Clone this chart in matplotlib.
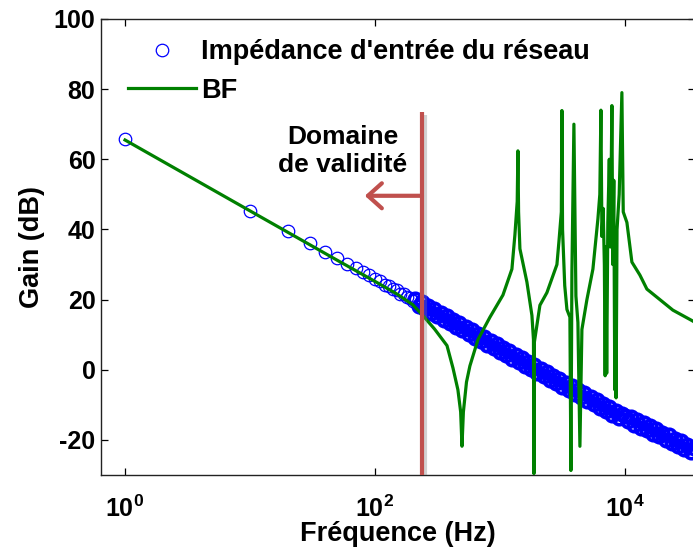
import math

import matplotlib
matplotlib.use("Agg")
import matplotlib.pyplot as plt
import matplotlib.patheffects as pe
from matplotlib.ticker import FixedLocator, FuncFormatter, NullLocator

# input impedance of the network (blue circles)
IMP_FREQ_HZ = [
    1, 10, 20, 30, 40, 50, 60, 70, 80, 90, 100, 110, 120, 130, 140, 150, 160, 170, 180, 190, 200,
    211, 224, 237, 251, 266, 282, 299, 316, 335, 355, 376, 398, 422, 447, 473, 501, 531, 562,
    596, 631, 668, 708, 750, 794, 841, 891, 944, 1000, 1059, 1122, 1189, 1259, 1334, 1413,
    1496, 1585, 1679, 1778, 1884, 1995, 2113, 2239, 2371, 2512, 2661, 2818, 2985, 3162, 3350,
    3548, 3758, 3981, 4217, 4467, 4732, 5012, 5309, 5623, 5957, 6310, 6683, 7079, 7499, 7943,
    8414, 8913, 9441, 10000, 10593, 11220, 11885, 12589, 13335, 14125, 14962, 15849, 16788,
    17783, 18836, 19953, 21135, 22387, 23714, 25119, 26607, 28184, 29854, 31623, 33497, 35481,
]
IMP_GAIN_DB = [
    65.8, 45.2, 39.6, 36.2, 33.6, 31.8, 30.2, 29.0, 27.8, 26.9, 25.8, 25.4, 24.3, 23.8, 22.9,
    22.6, 21.7, 21.5, 20.7, 20.6, 19.7,
    20.3, 18.2, 19.3, 17.2, 18.3, 16.2, 17.3, 15.2, 16.3, 14.2, 15.3, 13.2, 14.3, 12.2, 13.3,
    11.2, 12.3, 10.2, 11.3, 9.2, 10.3, 8.2, 9.3, 7.2, 8.3, 6.2, 7.3, 5.2, 6.3, 4.2, 5.3, 3.2,
    4.3, 2.2, 3.3, 1.2, 2.3, 0.2, 1.3, -0.8, 0.3, -1.8, -0.7, -2.8, -1.7, -3.8, -2.7, -4.8,
    -3.7, -5.8, -4.7, -6.8, -5.7, -7.8, -6.7, -8.8, -7.7, -9.8, -8.7, -10.8, -9.7, -11.8,
    -10.7, -12.8, -11.7, -13.8, -12.7, -13.2, -14.7, -13.6, -15.6, -14.4, -16.5, -15.3, -17.3,
    -16.1, -18.2, -17.0, -19.0, -17.9, -19.9, -18.7, -20.8, -19.6, -21.6, -20.4, -22.5, -21.3,
    -23.3, -22.2,
]
N_SPARSE = 21  # first points are spread out, the rest merge into a band

# BF model
BF_FREQ_HZ = [
    1, 10, 50, 100, 150, 200, 240, 300, 377, 421, 461, 485, 497, 510, 540, 575, 667, 832,
    1057, 1247, 1318, 1375, 1393, 1410, 1445, 1644, 1803, 1855, 1871, 1885, 2089, 2377, 2858,
    2965, 3100, 3133, 3170, 3300, 3436, 3630, 3698, 3767, 3908, 4055, 4207, 4365, 4529, 4966,
    5546, 6081, 6300, 6427, 6550, 6700, 6850, 6950, 7050, 7150, 7300, 7500, 7650, 7870, 8000,
    8150, 8300, 8400, 8500, 8650, 9000, 9460, 9700, 10375, 11376, 13183, 14997, 19055, 24210,
    34514, 36000,
]
BF_GAIN_DB = [
    65.5, 45.3, 31.2, 25.2, 21.6, 18.6, 15.6, 11.6, 6.9, 0.5, -5.7, -12.0, -21.8, -12.0, -3.5,
    1.1, 8.6, 15.0, 21.3, 28.7, 38.5, 48.0, 62.4, 45.0, 34.5, 25.0, 15.5, 8.6, -29.6, 7.8,
    18.4, 22.0, 30.0, 36.5, 45.0, 73.9, 40.0, 24.0, 17.2, 15.0, -28.7, 28.0, 70.0, 21.0, 13.5,
    -21.8, 11.5, 20.0, 28.7, 43.0, 50.0, 74.0, 38.0, 46.0, 30.0, -1.7, 35.0, -1.0, 42.0, 60.0,
    35.0, 75.3, 30.0, 54.0, -5.7, 36.0, -8.0, 40.0, 50.0, 79.0, 45.0, 42.0, 30.7, 27.0, 23.0,
    20.0, 17.0, 14.0, 13.6,
]

X_TICKS = [1, 100, 10000]
Y_TICKS = [-20, 0, 20, 40, 60, 80, 100]
VALIDITY_LIMIT_HZ = 238
ARROW_TIP_HZ = 83
ARROW_LEVEL_DB = 49.6

RED = "#c0504d"
GREEN = "#008000"
BLUE = "#0000ff"

plt.rcParams["font.family"] = ["Liberation Sans", "DejaVu Sans"]
plt.rcParams["font.weight"] = "bold"
plt.rcParams["axes.unicode_minus"] = False
plt.rcParams["mathtext.fontset"] = "custom"
plt.rcParams["mathtext.rm"] = "Liberation Sans:bold"
plt.rcParams["mathtext.bf"] = "Liberation Sans:bold"

fig = plt.figure(figsize=(6.93, 5.53), dpi=100)
ax = fig.add_axes([0.1457, 0.141, 0.857, 0.8247])

ax.plot(IMP_FREQ_HZ[:N_SPARSE], IMP_GAIN_DB[:N_SPARSE], linestyle="none", marker="o",
        markersize=9, markerfacecolor="none", markeredgecolor=BLUE, markeredgewidth=0.9,
        label="Impédance d'entrée du réseau", zorder=2)
ax.plot(IMP_FREQ_HZ[N_SPARSE:], IMP_GAIN_DB[N_SPARSE:], linestyle="none", marker="o",
        markersize=9, markerfacecolor="none", markeredgecolor=BLUE, markeredgewidth=2.6,
        zorder=2)
ax.plot(BF_FREQ_HZ, BF_GAIN_DB, color=GREEN, linewidth=2.3, label="BF", zorder=3)

ax.set_xscale("log")
ax.set_xlim(0.642, 36300)
ax.set_ylim(-30, 100)
ax.xaxis.set_major_locator(FixedLocator(X_TICKS))
ax.xaxis.set_minor_locator(NullLocator())
ax.xaxis.set_major_formatter(FuncFormatter(lambda v, p: r"$\mathbf{10^{%d}}$" % round(math.log10(v))))
ax.set_yticks(Y_TICKS)
ax.tick_params(direction="in", top=True, right=True, length=5, width=0.9, labelsize=18)
ax.tick_params(axis="y", pad=4)
ax.tick_params(axis="x", pad=15)
for sp in ax.spines.values():
    sp.set_linewidth(1.0)
    sp.set_color("#222222")

ax.set_xlabel("Fréquence (Hz)", fontsize=19.5, fontweight="bold", labelpad=-1)
ax.set_ylabel("Gain (dB)", fontsize=19.5, fontweight="bold", labelpad=6)

# validity domain annotation
shadow = [pe.SimpleLineShadow(offset=(2, -2), shadow_color="gray", alpha=0.35), pe.Normal()]
ax.axvline(VALIDITY_LIMIT_HZ, ymin=0, ymax=0.796, color=RED, linewidth=3.0,
           solid_capstyle="butt", path_effects=shadow, zorder=4)
ax.annotate("", xy=(ARROW_TIP_HZ, ARROW_LEVEL_DB), xytext=(VALIDITY_LIMIT_HZ, ARROW_LEVEL_DB),
            arrowprops=dict(arrowstyle="->,head_length=0.5,head_width=0.45", color=RED,
                            lw=3.0, shrinkA=0, shrinkB=0, mutation_scale=20), zorder=4)
ax.text(55.5, 62.3, "Domaine\nde validité", ha="center", va="center", fontsize=19,
        fontweight="bold", linespacing=1.2)

ax.legend(loc="upper left", frameon=False, fontsize=19.5, handlelength=2.5,
          handletextpad=0.2, labelspacing=0.45, borderaxespad=0, borderpad=0,
          bbox_to_anchor=(0.0455, 0.955))

fig.savefig("out.png", dpi=100)
